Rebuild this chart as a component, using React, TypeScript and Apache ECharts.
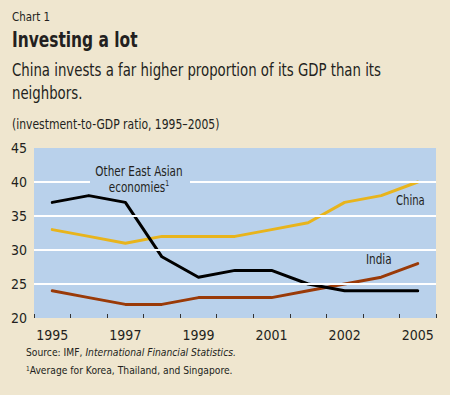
import React, { useEffect, useRef } from "react";
import * as echarts from "echarts";

const years = ["1995", "1996", "1997", "1998", "1999", "2000", "2001", "2002", "2003", "2004", "2005"];
const tickLabels = ["1995", "", "1997", "", "1999", "", "2001", "", "2002", "", "2005"];
const otherEastAsia = [37, 38, 37, 29, 26, 27, 27, 25, 24, 24, 24];
const china = [33, 32, 31, 32, 32, 32, 33, 34, 37, 38, 40];
const india = [24, 23, 22, 22, 23, 23, 23, 24, 25, 26, 28];
const gridValues = [25, 30, 35, 40];

const BG = "#efe6cf";
const BLUE = "#b9d1eb";
const FONT = "'Liberation Sans Narrow', 'DejaVu Sans Condensed', 'Arial Narrow', sans-serif";
const TXT = "#231f20";

export default function App() {
  const ref = useRef<HTMLDivElement>(null);
  useEffect(() => {
    if (!ref.current) return;
    const chart = echarts.init(ref.current, null, { renderer: "svg" });
    const lineSeries = (name: string, data: number[], color: string, z: number) => ({
      name,
      type: "line",
      data,
      symbol: "none",
      z,
      lineStyle: { color, width: 3, cap: "round", join: "round" },
    });
    const txt = (x: number, y: number, text: string, fontSize: number, scaleX: number, extra: any = {}) => ({
      type: "text",
      x,
      y,
      scaleX,
      z: 11,
      style: { text, fontSize, fill: TXT, fontFamily: FONT, verticalAlign: "top", ...extra },
    });
    chart.setOption({
      animation: false,
      backgroundColor: BG,
      textStyle: { fontFamily: FONT },
      grid: { left: 34, right: 14, top: 148, height: 170, show: true, backgroundColor: BLUE, borderWidth: 0 },
      xAxis: {
        type: "category",
        data: years,
        boundaryGap: true,
        axisLine: { show: false },
        axisTick: { show: true, inside: true, length: 4, interval: 0, lineStyle: { color: "#333", width: 1 } },
        axisLabel: {
          interval: 0,
          margin: 10,
          color: TXT,
          fontSize: 14,
          fontFamily: FONT,
          formatter: (_v: string, i: number) => tickLabels[i],
        },
        splitLine: { show: false },
      },
      yAxis: {
        type: "value",
        min: 20,
        max: 45,
        interval: 5,
        axisLine: { show: false },
        axisTick: { show: false },
        splitLine: { show: false },
        axisLabel: { color: TXT, fontSize: 14, margin: 7, fontFamily: FONT },
      },
      series: [
        {
          type: "line",
          data: [],
          silent: true,
          z: 1,
          markLine: {
            silent: true,
            symbol: "none",
            label: { show: false },
            lineStyle: { color: "#ffffff", width: 2, type: "solid" },
            data: gridValues.map((v) => ({ yAxis: v })),
          },
        },
        lineSeries("China", china, "#e8b41c", 3),
        lineSeries("India", india, "#9a3a08", 3),
        lineSeries("Other East Asian economies", otherEastAsia, "#000000", 4),
      ],
      graphic: [
        txt(12, 10, "Chart 1", 13, 0.88),
        txt(12, 29, "Investing a lot", 22, 0.78, { fontWeight: "bold" }),
        txt(12, 59, "China invests a far higher proportion of its GDP than its\nneighbors.", 17, 0.87, { lineHeight: 23 }),
        txt(12, 117, "(investment-to-GDP ratio, 1995–2005)", 13.5, 0.89),
        { type: "rect", shape: { x: 90, y: 177, width: 100, height: 8 }, style: { fill: BLUE }, z: 10 },
        txt(139, 163, "Other East Asian\neconomies{sup|1}", 13.5, 0.86, {
          align: "center",
          lineHeight: 16,
          rich: { sup: { fontSize: 8, verticalAlign: "top", fill: TXT, fontFamily: FONT, padding: [0, 0, 6, 0] } },
        }),
        txt(396, 193, "China", 14, 0.8),
        txt(366, 252, "India", 14, 0.83),
        txt(26, 347, "Source: IMF, {it|International Financial Statistics.}", 11, 0.93, {
          rich: { it: { fontStyle: "italic", fontSize: 11, fill: TXT, fontFamily: FONT } },
        }),
        txt(26, 365, "{sup|1}Average for Korea, Thailand, and Singapore.", 11, 0.93, {
          rich: { sup: { fontSize: 7, verticalAlign: "top", fill: TXT, fontFamily: FONT } },
        }),
      ],
    });
    return () => chart.dispose();
  }, []);
  return <div ref={ref} style={{ position: "fixed", left: 0, top: 0, width: 450, height: 395 }} />;
}
